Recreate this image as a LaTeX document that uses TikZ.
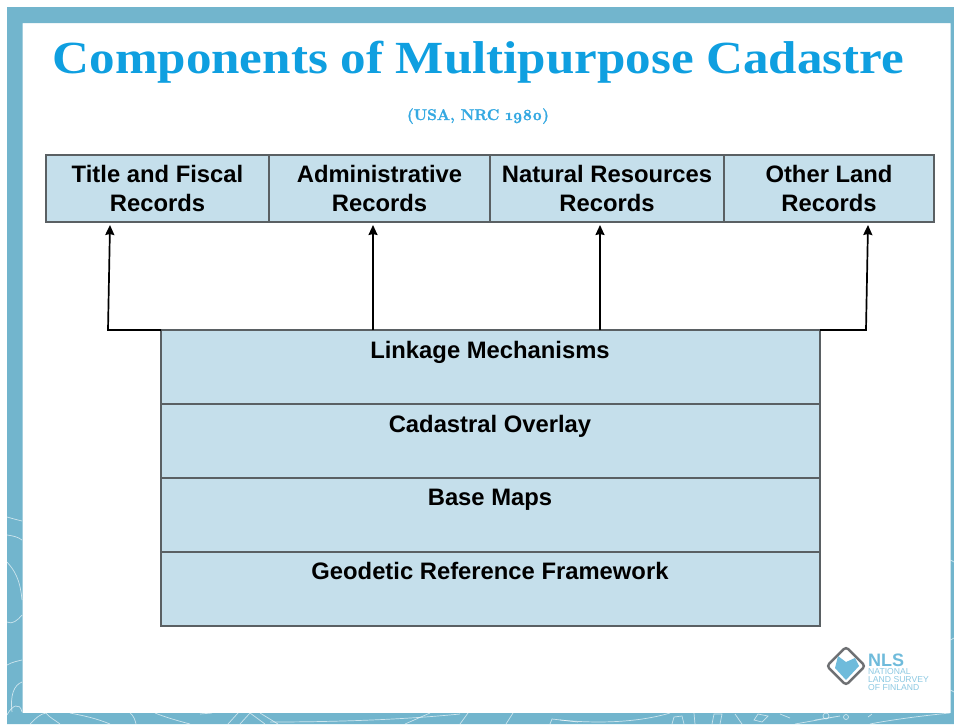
\documentclass[tikz,border=0pt]{standalone}
\usepackage{fontspec}
\setmainfont{Liberation Sans}
\newfontfamily\titlefont{Liberation Serif}[FakeStretch=1.11]
\newfontfamily\subfont{Latin Modern Roman}[Numbers=OldStyle,BoldFeatures={FakeBold=1.5}]
\usetikzlibrary{arrows.meta}
\definecolor{frameblue}{HTML}{72B5CD}
\definecolor{titleblue}{HTML}{0F9FE0}
\definecolor{subblue}{HTML}{35A9E2}
\definecolor{boxblue}{HTML}{C5DFEB}
\definecolor{edgegrey}{HTML}{5A6063}
\definecolor{logoblue}{HTML}{6FBBDB}
\definecolor{logogrey}{HTML}{6E7073}
\tikzset{
  topbox/.style={draw=edgegrey,line width=1.6pt,outer sep=0pt,fill=boxblue,minimum height=67pt,inner sep=0pt,anchor=north west,align=center,font=\fontsize{23.8}{29}\selectfont\bfseries},
  layerbox/.style={draw=edgegrey,line width=1.6pt,outer sep=0pt,fill=boxblue,minimum width=659pt,minimum height=74pt,inner sep=0pt,anchor=north west},
  layerlabel/.style={inner sep=0pt,font=\fontsize{23.8}{28}\selectfont\bfseries,anchor=base},
  link/.style={line width=1.7pt,black,-{Stealth[length=10pt,width=9pt,inset=1pt]}},
  mapline/.style={white,opacity=.65,line width=.7pt},
}
\begin{document}
\begin{tikzpicture}[x=1pt,y=-1pt]
\useasboundingbox (0,0) rectangle (954,724);
\fill[white] (0,0) rectangle (954,724);
\fill[frameblue,even odd rule] (7,7) rectangle (954,724) (22.5,23) rectangle (950.5,713);
% map lines on the frame
\draw[mapline] (7,517) .. controls (14,519) and (18,520) .. (22,521);
\draw[mapline] (7,535) .. controls (14,536) and (18,537) .. (22,540);
\draw[mapline] (7,562) .. controls (14,570) and (20,578) .. (22,600);
\draw[mapline] (7,622) .. controls (12,625) and (18,620) .. (22,615);
\draw[mapline] (7,665) .. controls (12,662) and (18,661) .. (22,660);
\draw[mapline] (22,682) .. controls (14,685) and (10,695) .. (12,712);
\draw[mapline] (7,715) .. controls (12,705) and (20,702) .. (22,712);
\draw[mapline] (30,724) .. controls (36,718) and (40,714) .. (46,713);
\draw[mapline] (46,713) .. controls (50,718) and (55,720) .. (60,724);
\draw[mapline] (70,713) .. controls (85,716) and (95,718) .. (110,724);
\draw[mapline] (130,713) .. controls (134,716) and (135,720) .. (136,724);
\draw[mapline] (155,713) .. controls (165,717) and (175,720) .. (190,724);
\draw[mapline] (200,714) -- (212,713);
\draw[mapline] (228,724) -- (238,713);
\draw[mapline] (240,724) -- (250,713) -- (265,724);
\draw[mapline] (260,713) -- (278,724);
\draw[mapline] (270,722) .. controls (330,722) and (400,720) .. (460,714);
\draw[mapline] (405,724) -- (430,713);
\draw[mapline] (460,724) -- (468,713);
\draw[mapline] (506,724) -- (513,713);
\draw[mapline] (550,724) -- (552,719) -- (578,722);
\draw[mapline] (560,720) .. controls (600,724) and (640,722) .. (670,713);
\draw[mapline] (672,724) -- (674,717) -- (682,716) -- (684,724);
\draw[mapline] (694,713) -- (695,724);
\draw[mapline] (712,724) -- (714,714) -- (722,714) -- (720,724);
\draw[mapline] (735,714) -- (742,724);
\draw[mapline] (754,720) -- (758,714) -- (768,716) -- (762,722) -- cycle;
\draw[mapline] (780,714) -- (790,718);
\draw[mapline] (795,724) -- (840,716) -- (815,720);
\draw[mapline] (826,716) circle (3);
\draw[mapline] (846,717) circle (2.5);
\draw[mapline] (868,717) -- (872,714);
\draw[mapline] (870,724) .. controls (890,720) and (920,716) .. (950,713);
\draw[mapline] (950.5,560) -- (954,562);
\draw[mapline] (950.5,640) -- (954,638);
\draw[mapline] (950.5,690) -- (954,692);

\node[font=\fontsize{46}{50}\selectfont\titlefont\bfseries,text=titleblue,inner sep=0pt,anchor=base] (title) at (478.5,73) {Components of Multipurpose Cadastre};
\node[font=\fontsize{15.5}{18}\selectfont\subfont\bfseries,text=subblue,inner sep=0pt,anchor=base] (source) at (478,120) {(USA, NRC 1980)};

\node[topbox,minimum width=223pt] (title-rec) at (46,155) {Title and Fiscal\\Records};
\node[topbox,minimum width=221pt] (admin-rec) at (269,155) {Administrative\\Records};
\node[topbox,minimum width=234pt] (natural-rec) at (490,155) {Natural Resources\\Records};
\node[topbox,minimum width=210pt] (other-rec) at (724,155) {Other Land\\Records};

\node[layerbox] (linkage) at (161,330) {};
\node[layerbox] (overlay) at (161,404) {};
\node[layerbox] (base) at (161,478) {};
\node[layerbox] (geodetic) at (161,552) {};
\node[layerlabel] (linkage-t) at (490,358) {Linkage Mechanisms};
\node[layerlabel] (overlay-t) at (490,432) {Cadastral Overlay};
\node[layerlabel] (base-t) at (490,505) {Base Maps};
\node[layerlabel] (geodetic-t) at (490,579) {Geodetic Reference Framework};

\coordinate (elbow-l) at (108,330);
\coordinate (elbow-r) at (866,330);
\coordinate (tip-a) at (110,225);
\coordinate (tip-b) at (373,225);
\coordinate (tip-c) at (600,225);
\coordinate (tip-d) at (868,225);
\draw[link] (linkage.north west) -- (elbow-l) -- (tip-a);
\draw[link] (linkage.north -| tip-b) -- (tip-b);
\draw[link] (linkage.north -| tip-c) -- (tip-c);
\draw[link] (linkage.north east) -- (elbow-r) -- (tip-d);

% logo
\node[draw=logogrey,line width=2.4pt,rounded corners=3pt,rotate=45,minimum size=27pt,inner sep=0pt] (logo) at (846,666) {};
\fill[logoblue] (838,656) -- (846,662) -- (855,658) -- (859,666) -- (846,680) -- (835,668) -- cycle;
\node[text=logoblue,font=\fontsize{18}{18}\selectfont\bfseries,inner sep=0pt,anchor=base west] (nls) at (868,666) {NLS};
\node[text=logoblue,opacity=.8,font=\fontsize{8.6}{7.8}\selectfont,inner sep=0pt,anchor=north west,align=left] (nls-sub) at (868,668.5) {NATIONAL\\LAND SURVEY\\OF FINLAND};
\end{tikzpicture}
\end{document}
